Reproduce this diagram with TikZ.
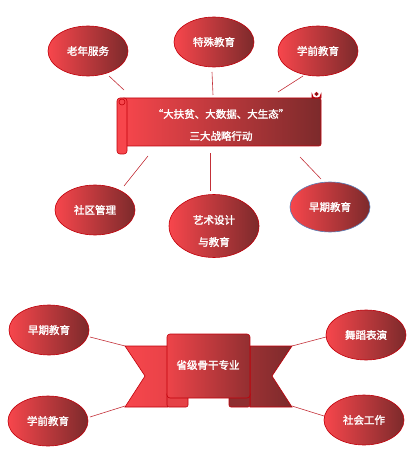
\documentclass[tikz,border=0pt]{standalone}
\usepackage{fontspec}
\newfontfamily\cjk[FakeBold=2]{Noto Sans CJK SC}
\usetikzlibrary{shapes.geometric}
\definecolor{redL}{HTML}{F7464C}
\definecolor{redR}{HTML}{7C2A2B}
\definecolor{edgec}{HTML}{C0000A}
\definecolor{linkc}{HTML}{C33038}
\definecolor{bluec}{HTML}{5A7FB8}
\begin{document}
\begin{tikzpicture}[x=1pt,y=-1pt,
  bub/.style={ellipse, draw=edgec, line width=0.6pt, left color=redL, right color=redR,
              minimum width=80pt, minimum height=50pt, inner sep=0pt},
  lbl/.style={text=white, font=\cjk\fontsize{10.5}{12}\selectfont, align=center},
  link/.style={draw=linkc, line width=0.6pt},
  part/.style={draw=edgec, line width=0.6pt}]
\useasboundingbox (0,0) rectangle (413,457);

% ---------- top scroll ----------
\path[part, left color=redL, right color=redR, rounded corners=2pt]
  (122,98) -- (321,98) -- (321,146) -- (122,146) -- cycle;
\path[part, fill=redR] (312,98) -- (312,94) arc[start angle=180,end angle=0,radius=4.5] -- (321,98) -- cycle;
\path[part, fill=redR!80!black] (316.5,94) circle[radius=1.8];
\path[part, fill=redL, rounded corners=3pt] (117,98) rectangle (127,154);
\path[part, fill=redL] (122,102) circle[radius=3];
\node[lbl] (s1) at (221,114) {“大扶贫、大数据、大生态”};
\node[lbl] (s2) at (221,136) {三大战略行动};

% ---------- top ellipses ----------
\node[bub,lbl] (e1) at (88,51) {老年服务};
\node[bub,lbl] (e2) at (214,42) {特殊教育};
\node[bub,lbl] (e3) at (318,51) {学前教育};
\node[bub,lbl] (e4) at (95,210) {社区管理};
\node[bub, minimum width=90pt, minimum height=63pt] (e5) at (214,226) {};
\node[lbl] (e5t) at (214,231) {艺术设计\\[10pt]与教育};
\node[bub,lbl,draw=bluec] (e6) at (330,207) {早期教育};

\coordinate (a1) at (109,76);  \coordinate (b1) at (124,90);
\coordinate (a2) at (212,72);  \coordinate (b2) at (213,95);
\coordinate (a3) at (303,76);  \coordinate (b3) at (278,92);
\coordinate (a4) at (124,186); \coordinate (b4) at (148,156);
\coordinate (a5) at (210,191); \coordinate (b5) at (210,153);
\coordinate (a6) at (321,179); \coordinate (b6) at (300,157);
\draw[link] (a1) -- (b1);
\draw[link] (a2) -- (b2);
\draw[link] (a3) -- (b3);
\draw[link] (a4) -- (b4);
\draw[link] (a5) -- (b5);
\draw[link] (a6) -- (b6);

% ---------- bottom ribbon ----------
\path[part, left color=redL, right color=redL!88!redR]
  (125,346) -- (168,346) -- (168,407) -- (125,407) -- (145,376) -- cycle;
\path[part, left color=redR!75!redL, right color=redR]
  (250,346) -- (292,346) -- (272,376) -- (292,407) -- (250,407) -- cycle;
\path[part, fill=redL!85!redR, rounded corners=2pt] (167,392) rectangle (188,407);
\path[part, fill=redR!85!redL, rounded corners=2pt] (229,392) rectangle (250,407);
\path[part, left color=redL!92!redR, right color=redR!82!redL, rounded corners=3pt]
  (167,334) rectangle (250,398);
\node[lbl] (rib) at (208,365) {省级骨干专业};

\node[bub,lbl] (f1) at (49,330) {早期教育};
\node[bub,lbl] (f2) at (48,421) {学前教育};
\node[bub,lbl] (f3) at (366,335) {舞蹈表演};
\node[bub,lbl] (f4) at (364,420) {社会工作};

\coordinate (c1) at (90,337);  \coordinate (d1) at (125,346);
\coordinate (c2) at (90,417);  \coordinate (d2) at (125,406);
\coordinate (c3) at (326,337); \coordinate (d3) at (292,346);
\coordinate (c4) at (324,416); \coordinate (d4) at (292,406);
\draw[link] (c1) -- (d1);
\draw[link] (c2) -- (d2);
\draw[link] (c3) -- (d3);
\draw[link] (c4) -- (d4);
\end{tikzpicture}
\end{document}
